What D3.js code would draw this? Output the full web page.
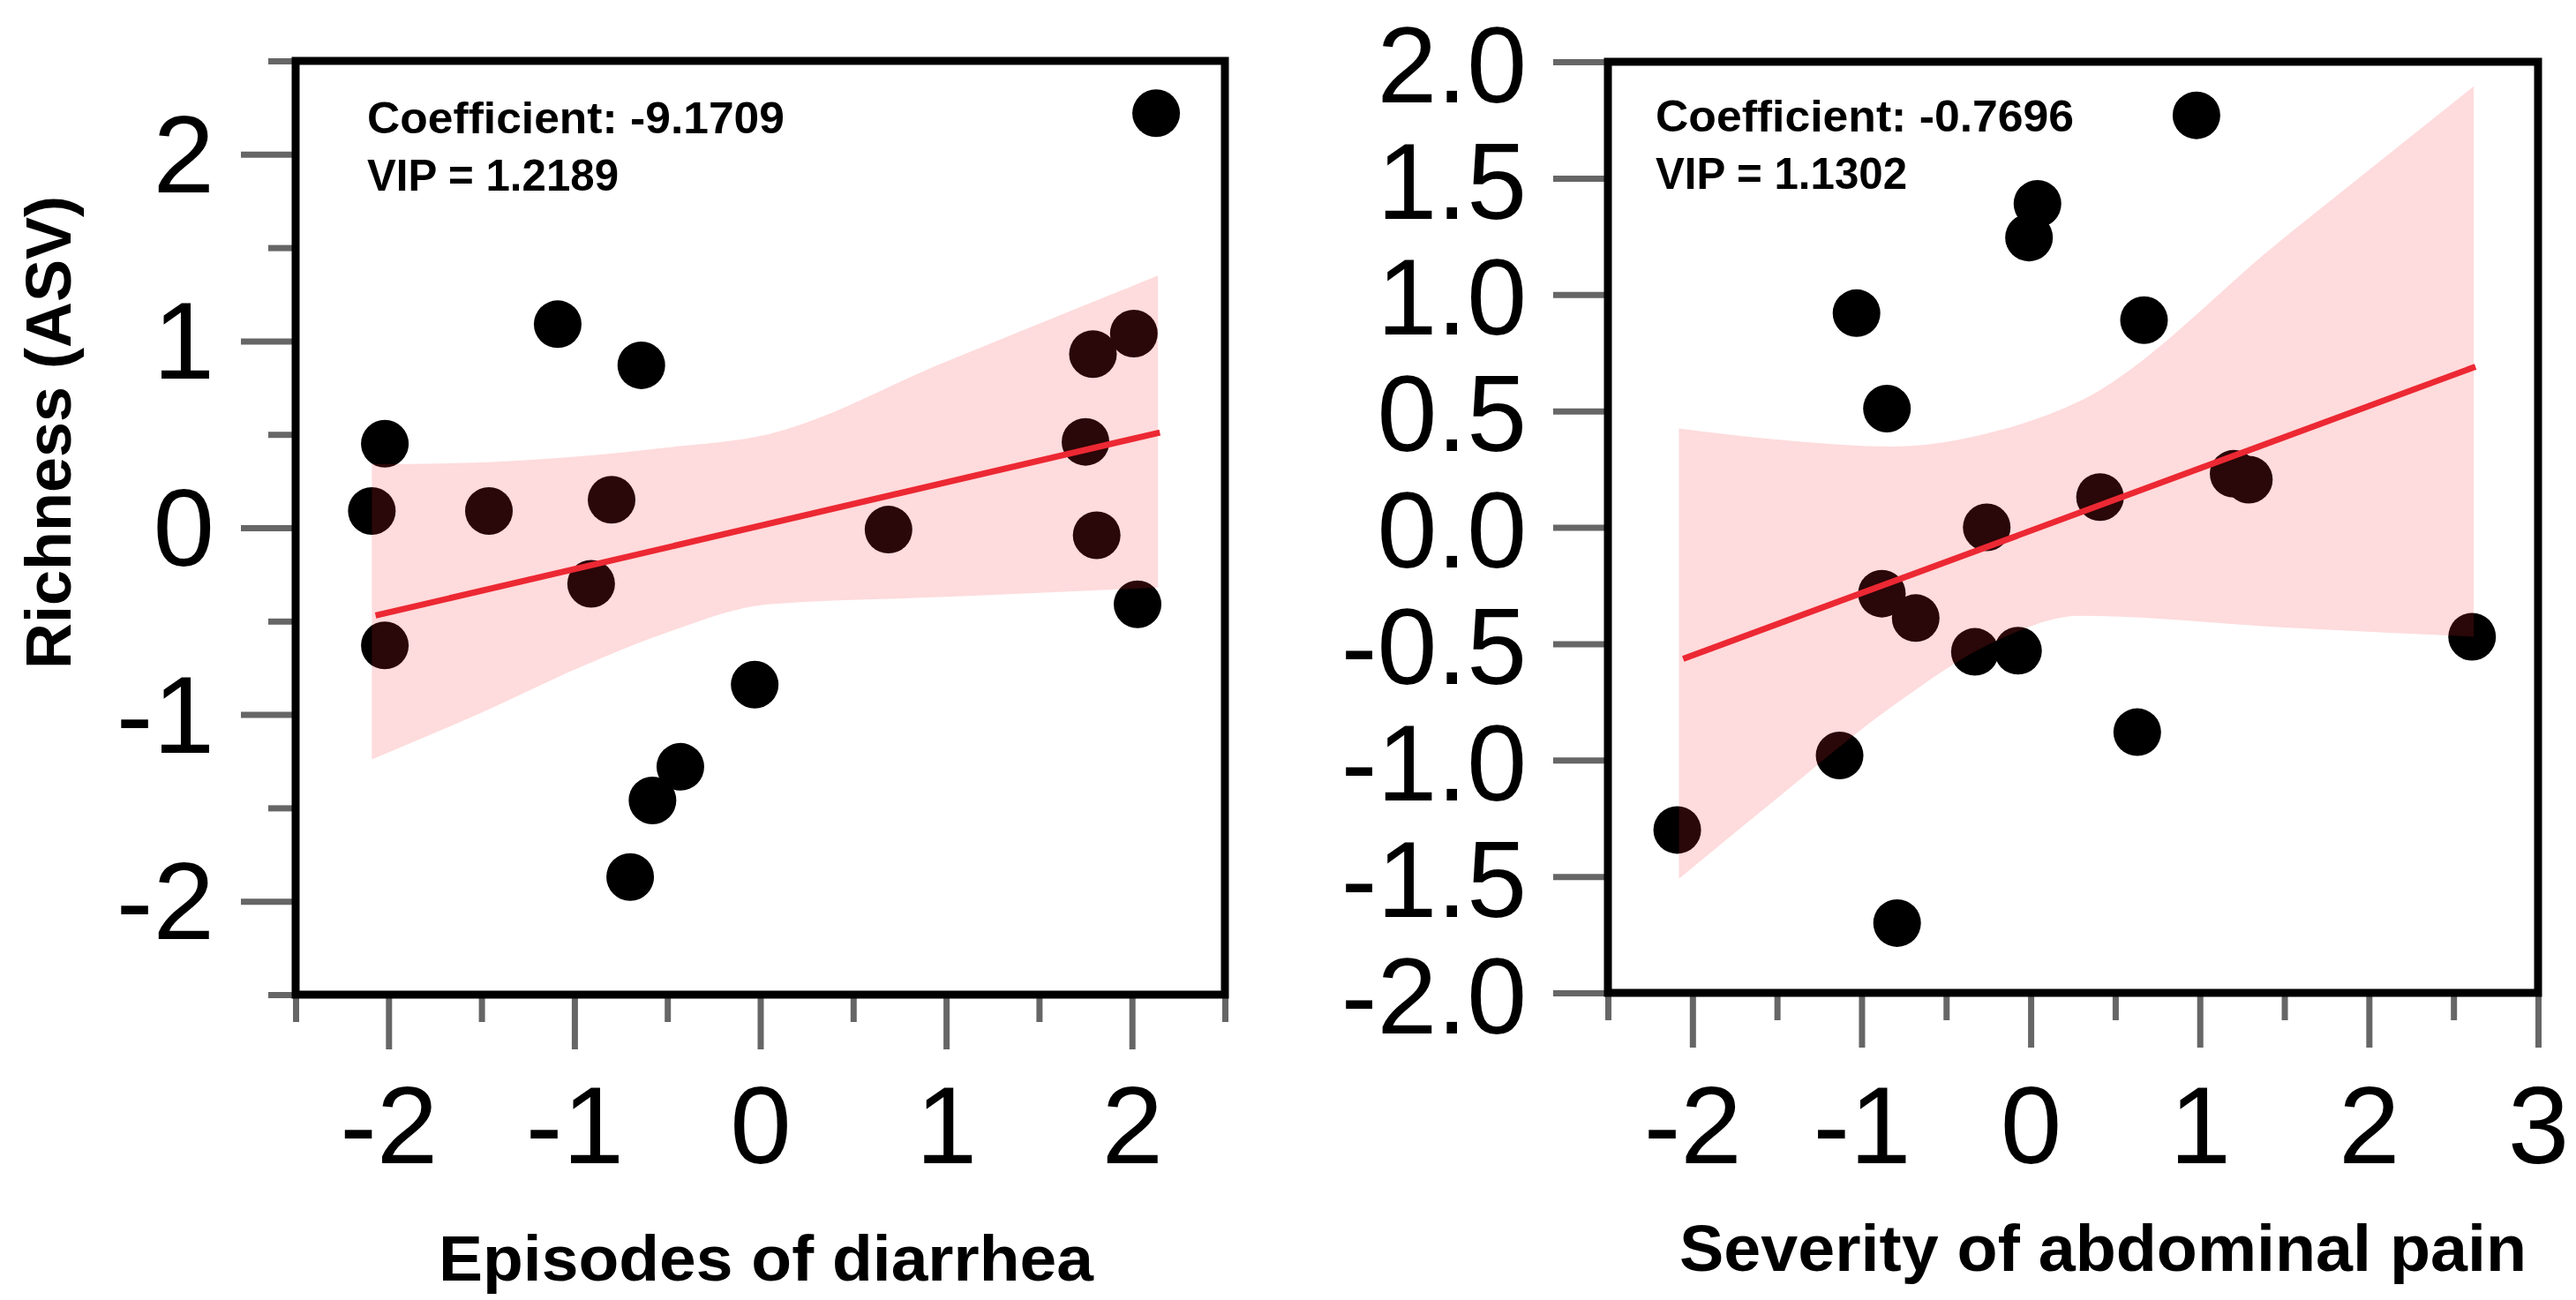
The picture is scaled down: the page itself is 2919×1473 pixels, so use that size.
<!DOCTYPE html>
<html><head><meta charset="utf-8">
<script src="https://cdn.jsdelivr.net/npm/d3@7/dist/d3.min.js"></script>
<style>html,body{margin:0;padding:0;background:#fff}</style>
</head><body>
<svg id="c" width="2919" height="1473" xmlns="http://www.w3.org/2000/svg"></svg>
<script>
// ---------- data: left panel (Episodes of diarrhea) ----------
const diarrheaX = [2.13, -1.09, -0.64, -2.02, -2.09, -1.46, -0.80, -0.91, -2.02, 0.69, 1.79, 2.01, 1.75, 1.81, 2.03, -0.03, -0.43, -0.58, -0.70];
const diarrheaY = [2.22, 1.09, 0.87, 0.45, 0.09, 0.09, 0.15, -0.30, -0.63, -0.01, 0.93, 1.04, 0.46, -0.04, -0.41, -0.84, -1.28, -1.46, -1.87];
const diarrheaFitX = [-2.07, 2.15];
const diarrheaFitY = [-0.47, 0.51];
const diarrheaBandX  = [-2.09, -1.5, -1.0, -0.5, 0.04, 1.0, 2.14];
const diarrheaBandLo = [-1.24, -0.99, -0.76, -0.56, -0.41, -0.37, -0.32];
const diarrheaBandHi = [0.34, 0.35, 0.38, 0.43, 0.50, 0.89, 1.35];
const diarrheaXTicks = [-2, -1, 0, 1, 2];
const diarrheaXMinor = [-2.5, -1.5, -0.5, 0.5, 1.5, 2.5];
const diarrheaYTicks = [-2, -1, 0, 1, 2];
const diarrheaYMinor = [-2.5, -1.5, -0.5, 0.5, 1.5, 2.5];
const diarrheaNotes = ["Coefficient: -9.1709", "VIP = 1.2189"];

// ---------- data: right panel (Severity of abdominal pain) ----------
const painX = [0.98, 0.04, -0.01, -1.03, 0.67, -0.85, 1.20, 1.29, 0.41, -0.26, -0.88, -0.68, -0.33, -0.075, 2.61, 0.63, -1.13, -2.09, -0.79];
const painY = [1.77, 1.39, 1.245, 0.92, 0.89, 0.51, 0.23, 0.205, 0.13, 0.00, -0.285, -0.39, -0.535, -0.53, -0.47, -0.88, -0.98, -1.30, -1.70];
const painFitX = [-2.055, 2.63];
const painFitY = [-0.565, 0.69];
const painBandX  = [-2.08, -1.46, -0.82, -0.21, 0.29, 1.5, 2.62];
const painBandLo = [-1.51, -1.14, -0.77, -0.49, -0.38, -0.43, -0.47];
const painBandHi = [0.425, 0.374, 0.347, 0.412, 0.542, 1.245, 1.895];
const painXTicks = [-2, -1, 0, 1, 2, 3];
const painXMinor = [-2.5, -1.5, -0.5, 0.5, 1.5, 2.5];
const painYTicks = [-2, -1.5, -1, -0.5, 0, 0.5, 1, 1.5, 2];
const painNotes = ["Coefficient: -0.7696", "VIP = 1.1302"];

const yTitle = "Richness (ASV)";
const xTitles = ["Episodes of diarrhea", "Severity of abdominal pain"];

// ---------- drawing ----------
const svg = d3.select("#c");
svg.append("rect").attr("width", 2919).attr("height", 1473).attr("fill", "#fff");
const FONT = "'Liberation Sans', Arial, Helvetica, sans-serif";

function panel(cfg) {
  const f = cfg.frame;
  const x = d3.scaleLinear().domain(cfg.xDomain).range([f.x0, f.x1]);
  const y = d3.scaleLinear().domain(cfg.yDomain).range([f.y1, f.y0]);
  const g = svg.append("g");

  // points (drawn under the translucent band)
  const pts = cfg.px.map((v, i) => ({x: v, y: cfg.py[i]}));
  g.append("g").selectAll("circle").data(pts).join("circle")
    .attr("cx", d => x(d.x)).attr("cy", d => y(d.y)).attr("r", 27).attr("fill", "#000");

  // confidence band
  const band = cfg.bx.map((v, i) => ({x: v, lo: cfg.blo[i], hi: cfg.bhi[i]}));
  g.append("path").datum(band)
    .attr("d", d3.area().x(d => x(d.x)).y0(d => y(d.lo)).y1(d => y(d.hi)).curve(d3.curveMonotoneX))
    .attr("fill", "rgb(250,40,50)").attr("fill-opacity", 0.17);

  // fit line
  const fit = cfg.fx.map((v, i) => ({x: v, y: cfg.fy[i]}));
  g.append("path").datum(fit)
    .attr("d", d3.line().x(d => x(d.x)).y(d => y(d.y)))
    .attr("fill", "none").attr("stroke", "#ec2833").attr("stroke-width", 7);

  // axes
  function style(ax, size) {
    ax.select(".domain").remove();
    ax.selectAll(".tick line").attr("stroke", "#666").attr("stroke-width", 7);
    ax.attr("font-family", FONT).attr("font-size", size);
    ax.selectAll(".tick text").attr("fill", "#000");
  }
  const xa = g.append("g").attr("transform", `translate(0,${f.y1})`)
    .call(d3.axisBottom(x).tickValues(cfg.xTicks).tickSize(62).tickPadding(cfg.xPad).tickFormat(d => String(d)));
  style(xa, 125);
  const xm = g.append("g").attr("transform", `translate(0,${f.y1})`)
    .call(d3.axisBottom(x).tickValues(cfg.xMinor).tickSize(31).tickFormat(""));
  style(xm, 125);
  const ya = g.append("g").attr("transform", `translate(${f.x0},0)`)
    .call(d3.axisLeft(y).tickValues(cfg.yTicks).tickSize(62).tickPadding(30).tickFormat(cfg.yFmt));
  style(ya, cfg.ySize);
  ya.selectAll(".tick text").attr("dy", cfg.yDy);
  if (cfg.yMinor) {
    const ym = g.append("g").attr("transform", `translate(${f.x0},0)`)
      .call(d3.axisLeft(y).tickValues(cfg.yMinor).tickSize(31).tickFormat(""));
    style(ym, cfg.ySize);
  }

  // frame
  g.append("rect").attr("x", f.x0).attr("y", f.y0).attr("width", f.x1 - f.x0).attr("height", f.y1 - f.y0)
    .attr("fill", "none").attr("stroke", "#000").attr("stroke-width", 9);

  // annotations
  cfg.notes.forEach((t, i) => {
    g.append("text").attr("x", cfg.noteX).attr("y", cfg.noteY[i])
      .attr("font-family", FONT).attr("font-weight", "bold").attr("font-size", 50)
      .attr("textLength", cfg.noteW[i]).attr("lengthAdjust", "spacingAndGlyphs")
      .attr("fill", "#000").text(t);
  });

  // x title
  g.append("text").attr("x", cfg.xt.x).attr("y", cfg.xt.y)
    .attr("font-family", FONT).attr("font-weight", "bold").attr("font-size", cfg.xt.size)
    .attr("textLength", cfg.xt.w).attr("lengthAdjust", "spacingAndGlyphs")
    .attr("fill", "#000").text(cfg.xt.text);
}

panel({
  frame: {x0: 335, x1: 1388, y0: 69, y1: 1127},
  xDomain: [-2.5, 2.5], yDomain: [-2.5, 2.5],
  px: diarrheaX, py: diarrheaY,
  bx: diarrheaBandX, blo: diarrheaBandLo, bhi: diarrheaBandHi,
  fx: diarrheaFitX, fy: diarrheaFitY,
  xTicks: diarrheaXTicks, xMinor: diarrheaXMinor, xPad: 40,
  yTicks: diarrheaYTicks, yMinor: diarrheaYMinor, yFmt: d => String(d), ySize: 125, yDy: "0.34em",
  notes: diarrheaNotes, noteX: 416, noteY: [151, 216], noteW: [473, 285],
  xt: {text: xTitles[0], x: 497, y: 1451, size: 73, w: 742}
});

panel({
  frame: {x0: 1822, x1: 2876, y0: 70, y1: 1125},
  xDomain: [-2.5, 3], yDomain: [-2, 2],
  px: painX, py: painY,
  bx: painBandX, blo: painBandLo, bhi: painBandHi,
  fx: painFitX, fy: painFitY,
  xTicks: painXTicks, xMinor: painXMinor, xPad: 42,
  yTicks: painYTicks, yMinor: null, yFmt: d => d.toFixed(1), ySize: 122, yDy: "0.37em",
  notes: painNotes, noteX: 1876, noteY: [149, 214], noteW: [474, 285],
  xt: {text: xTitles[1], x: 1903, y: 1440, size: 75, w: 960}
});

// shared y title
svg.append("text")
  .attr("transform", "translate(80,490) rotate(-90)")
  .attr("text-anchor", "middle")
  .attr("font-family", FONT).attr("font-weight", "bold").attr("font-size", 72)
  .attr("fill", "#000").text(yTitle);
</script>
</body></html>
